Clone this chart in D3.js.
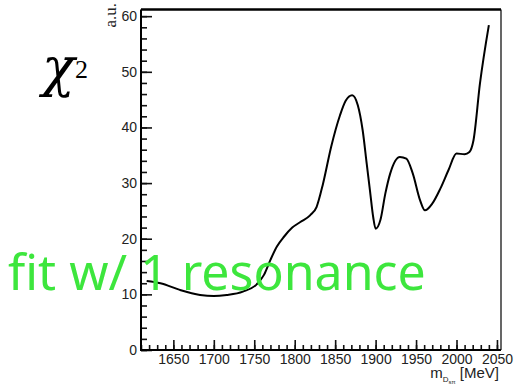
<!DOCTYPE html>
<html>
<head>
<meta charset="utf-8">
<script src="https://cdn.jsdelivr.net/npm/d3@7"></script>
<style>
  body { margin: 0; background: #fff; }
  svg { display: block; }
  .axis text { font-family: "Liberation Sans", Arial, sans-serif; font-size: 14px; fill: #222; }
  .axis line { stroke: #111; stroke-width: 1.6px; }
</style>
</head>
<body>
<svg id="chart"></svg>
<script>
// chi^2 scan vs D_s pi mass
const massValues = [1617, 1634, 1658, 1683, 1700, 1716, 1736, 1753, 1762, 1770, 1778, 1787,
    1797, 1807, 1819, 1827, 1835, 1845, 1856, 1863, 1871, 1878, 1884, 1889, 1893, 1897, 1900,
    1906, 1912, 1918, 1930, 1938, 1946, 1955, 1961, 1970, 1980, 1990, 2000, 2010, 2016, 2021,
    2029, 2040];
const chi2Values = [12.4, 12.0, 10.8, 9.9, 9.7, 9.9, 10.5, 11.8, 13.5, 16.2, 18.6, 20.4,
    22.0, 23.0, 24.2, 25.7, 29.9, 36.5, 42.2, 44.8, 45.8, 44.0, 39.5, 33.5, 28.7, 23.9, 21.8,
    23.4, 28.1, 31.7, 34.7, 34.4, 31.7, 26.9, 25.1, 26.3, 29.0, 32.3, 35.3, 35.2, 35.6, 37.7,
    47.9, 58.4];
const xMajorTicks = [1650, 1700, 1750, 1800, 1850, 1900, 1950, 2000, 2050];
const xMinorTicks = d3.range(1610, 2051, 10);
const yMajorTicks = [0, 10, 20, 30, 40, 50, 60];
const yMinorTicks = d3.range(0, 61, 2);

const config = {
    containerWidth: 516,
    containerHeight: 385,
    margin: { top: 9.5, right: 15, bottom: 35, left: 141 }
};
const width = config.containerWidth - config.margin.left - config.margin.right;
const height = config.containerHeight - config.margin.top - config.margin.bottom;

const svg = d3.select('#chart')
    .attr('width', config.containerWidth)
    .attr('height', config.containerHeight);

const chartArea = svg.append('g')
    .attr('transform', `translate(${config.margin.left},${config.margin.top})`);

const xScale = d3.scaleLinear().domain([1610, 2055]).range([0, width]);
const yScale = d3.scaleLinear().domain([0, 61.2]).range([height, 0]);

// minor ticks first, then major ticks with labels (ticks point inward)
chartArea.append('g')
    .attr('class', 'axis')
    .attr('transform', `translate(0,${height})`)
    .call(d3.axisBottom(xScale).tickValues(xMinorTicks).tickSize(-5).tickFormat(''))
    .call(g => g.select('.domain').remove());

chartArea.append('g')
    .attr('class', 'axis')
    .attr('transform', `translate(0,${height})`)
    .call(d3.axisBottom(xScale).tickValues(xMajorTicks).tickSize(-10).tickPadding(4).tickFormat(d3.format('d')))
    .call(g => g.select('.domain').remove());

chartArea.append('g')
    .attr('class', 'axis')
    .call(d3.axisLeft(yScale).tickValues(yMinorTicks).tickSize(-6).tickFormat(''))
    .call(g => g.select('.domain').remove());

chartArea.append('g')
    .attr('class', 'axis')
    .call(d3.axisLeft(yScale).tickValues(yMajorTicks).tickSize(-11).tickPadding(4).tickFormat(d3.format('d')))
    .call(g => g.select('.domain').remove());

// frame
chartArea.append('line').attr('x1', 0).attr('x2', 0).attr('y1', 0).attr('y2', height)
    .attr('stroke', '#000').attr('stroke-width', 2);
chartArea.append('line').attr('x1', -1).attr('x2', width).attr('y1', height).attr('y2', height)
    .attr('stroke', '#000').attr('stroke-width', 2);
chartArea.append('line').attr('x1', 0).attr('x2', width).attr('y1', 0).attr('y2', 0)
    .attr('stroke', '#000').attr('stroke-width', 2.5);
chartArea.append('line').attr('x1', width).attr('x2', width).attr('y1', 0).attr('y2', height)
    .attr('stroke', '#000').attr('stroke-width', 1.2);

// the curve
const points = massValues.map((m, i) => [m, chi2Values[i]]);
const line = d3.line()
    .x(d => xScale(d[0]))
    .y(d => yScale(d[1]))
    .curve(d3.curveMonotoneX);

chartArea.append('path')
    .datum(points)
    .attr('fill', 'none')
    .attr('stroke', '#000')
    .attr('stroke-width', 2)
    .attr('d', line);

// axis titles
svg.append('text')
    .attr('transform', 'translate(116,3) rotate(-90)')
    .attr('text-anchor', 'end')
    .attr('font-family', '"Liberation Serif", "Times New Roman", serif')
    .attr('font-size', 17)
    .attr('fill', '#222')
    .text('a.u.');

const xTitle = svg.append('text')
    .attr('x', 499)
    .attr('y', 378)
    .attr('text-anchor', 'end')
    .attr('font-family', '"Liberation Sans", Arial, sans-serif')
    .attr('fill', '#222');
xTitle.append('tspan').attr('font-size', 15).text('m');
xTitle.append('tspan').attr('font-size', 8).attr('dy', 4).text('D');
xTitle.append('tspan').attr('font-size', 6).attr('dy', 2).text('sπ');
xTitle.append('tspan').attr('font-size', 15).attr('dy', -6).text(' [MeV]');

// chi^2 label
svg.append('text')
    .attr('x', 42)
    .attr('y', 86)
    .attr('font-family', '"DejaVu Serif", "Liberation Serif", serif')
    .attr('font-style', 'italic')
    .attr('font-size', 54)
    .attr('fill', '#000')
    .text('χ');
svg.append('text')
    .attr('x', 75)
    .attr('y', 78)
    .attr('font-family', '"Liberation Serif", "Times New Roman", serif')
    .attr('font-size', 26)
    .attr('fill', '#000')
    .text('2');

// overlay annotation
svg.append('text')
    .attr('x', 8)
    .attr('y', 290)
    .attr('font-family', '"Noto Sans", "Open Sans", sans-serif')
    .attr('font-size', 50)
    .attr('fill', '#3de63d')
    .text('fit w/ 1 resonance');
</script>
</body>
</html>
